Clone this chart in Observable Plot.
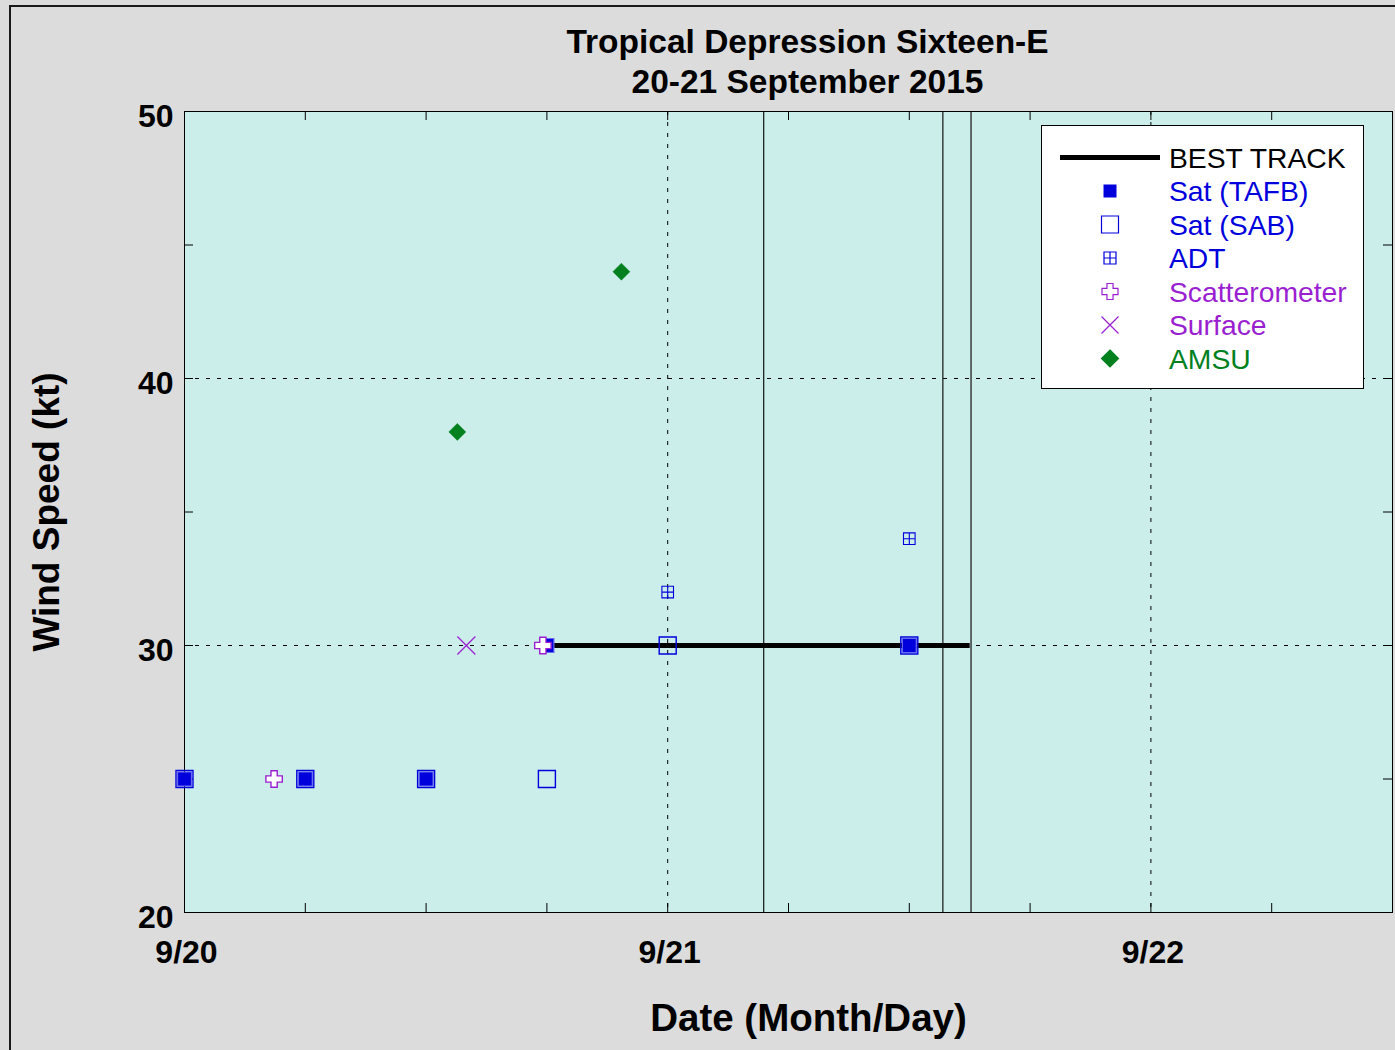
<!DOCTYPE html>
<html><head><meta charset="utf-8">
<script src="https://cdn.jsdelivr.net/npm/d3@7"></script>
<script src="https://cdn.jsdelivr.net/npm/@observablehq/plot@0.6"></script>
<style>
html,body{margin:0;padding:0;overflow:hidden;background:#dcdcdc;}
#wrap{position:relative;width:1395px;height:1050px;overflow:hidden;}
#border{position:absolute;left:9px;top:5px;width:1500px;height:1200px;border:2px solid #1a1a1a;pointer-events:none;}
#legend{position:absolute;left:1041px;top:125px;}
</style></head><body><div id="wrap"><div id="border"></div></div>
<script>
const FONT = "'Liberation Sans', Arial, Helvetica, sans-serif";
const BLUE = "#0000dd", PURPLE = "#9a1fd0", GREEN = "#00801f";

const titleLines = ["Tropical Depression Sixteen-E", "20-21 September 2015"];
const xLabel = "Date (Month/Day)";
const yLabel = "Wind Speed (kt)";

// Data
const bestTimes = ["2015-09-20T18:00Z","2015-09-21T00:00Z","2015-09-21T06:00Z","2015-09-21T12:00Z","2015-09-21T15:00Z"];
const bestWinds = [30, 30, 30, 30, 30];
const tafbTimes = ["2015-09-20T00:00Z","2015-09-20T06:00Z","2015-09-20T12:00Z","2015-09-20T18:00Z","2015-09-21T12:00Z"];
const tafbWinds = [25, 25, 25, 30, 30];
const sabTimes = ["2015-09-20T00:00Z","2015-09-20T06:00Z","2015-09-20T12:00Z","2015-09-20T18:00Z","2015-09-21T00:00Z","2015-09-21T12:00Z"];
const sabWinds = [25, 25, 25, 25, 30, 30];
const adtTimes = ["2015-09-21T00:00Z","2015-09-21T12:00Z"];
const adtWinds = [32, 34];
const scatTimes = ["2015-09-20T04:27Z","2015-09-20T17:48Z"];
const scatWinds = [25, 30];
const sfcTimes = ["2015-09-20T14:00Z"];
const sfcWinds = [30];
const amsuTimes = ["2015-09-20T13:33Z","2015-09-20T21:42Z"];
const amsuWinds = [38, 44];
const eventTimes = ["2015-09-21T04:46Z","2015-09-21T13:40Z","2015-09-21T15:04Z"];

// Axes
const xDomain = ["2015-09-20T00:00Z","2015-09-22T12:00Z"];
const dayTicks = ["2015-09-20T00:00Z","2015-09-21T00:00Z","2015-09-22T00:00Z"];
const dayLabels = ["9/20","9/21","9/22"];
const sixHourTicks = ["2015-09-20T00:00Z","2015-09-20T06:00Z","2015-09-20T12:00Z","2015-09-20T18:00Z",
  "2015-09-21T00:00Z","2015-09-21T06:00Z","2015-09-21T12:00Z","2015-09-21T18:00Z",
  "2015-09-22T00:00Z","2015-09-22T06:00Z","2015-09-22T12:00Z"];
const yDomain = [20, 50];
const yMajorTicks = [20, 30, 40, 50];
const yMajorLabels = ["20","30","40","50"];
const yMinorTicks = [20, 25, 30, 35, 40, 45, 50];

const pts = (t, v) => t.map((d, i) => ({t: new Date(d), v: v[i]}));
const best = pts(bestTimes, bestWinds);
const tafb = pts(tafbTimes, tafbWinds);
const sab = pts(sabTimes, sabWinds);
const adt = pts(adtTimes, adtWinds);
const scat = pts(scatTimes, scatWinds);
const sfc = pts(sfcTimes, sfcWinds);
const amsu = pts(amsuTimes, amsuWinds);
const events = eventTimes.map(d => new Date(d));
const days = dayTicks.map((d, i) => ({t: new Date(d), label: dayLabels[i]}));
const sixH = sixHourTicks.map(d => new Date(d));
const yMaj = yMajorTicks.map((v, i) => ({v, label: yMajorLabels[i]}));

// Symbols
const sym = f => ({draw(c, size) { f(c, Math.sqrt(size / Math.PI)); }});
const sq = (c, r) => { c.moveTo(-r, -r); c.lineTo(r, -r); c.lineTo(r, r); c.lineTo(-r, r); c.closePath(); };
const SQUARE = sym(sq);
const ADTSYM = sym((c, r) => { sq(c, r); c.moveTo(0, -r); c.lineTo(0, r); c.moveTo(-r, 0); c.lineTo(r, 0); });
const PLUS = sym((c, r) => {
  const a = r * 0.38;
  c.moveTo(-a, -r); c.lineTo(a, -r); c.lineTo(a, -a); c.lineTo(r, -a); c.lineTo(r, a); c.lineTo(a, a);
  c.lineTo(a, r); c.lineTo(-a, r); c.lineTo(-a, a); c.lineTo(-r, a); c.lineTo(-r, -a); c.lineTo(-a, -a); c.closePath();
});
const TIMES = sym((c, r) => { c.moveTo(-r, -r); c.lineTo(r, r); c.moveTo(-r, r); c.lineTo(r, -r); });
const DIAMOND = sym((c, r) => { c.moveTo(0, -r); c.lineTo(r, 0); c.lineTo(0, r); c.lineTo(-r, 0); c.closePath(); });

const W = 1395, H = 1050, mT = 111, mB = 138, mL = 184, mR = 3;
const pw = W - mL - mR, ph = H - mT - mB, tk = 9;
const dash = "4,7";

const chart = Plot.plot({
  width: W, height: H,
  marginTop: mT, marginBottom: mB, marginLeft: mL, marginRight: mR,
  style: {background: "#dcdcdc", fontFamily: FONT, overflow: "visible"},
  x: {type: "utc", domain: xDomain.map(d => new Date(d)), axis: null},
  y: {domain: yDomain, axis: null},
  marks: [
    Plot.frame({fill: "#cbeeea", stroke: null}),
    // grid
    Plot.ruleX(days, {x: "t", stroke: "black", strokeWidth: 1, strokeDasharray: dash}),
    Plot.ruleY(yMaj, {y: "v", stroke: "black", strokeWidth: 1, strokeDasharray: dash}),
    // inward ticks
    Plot.ruleX(sixH, {x: d => d, insetTop: ph - tk, stroke: "black"}),
    Plot.ruleX(sixH, {x: d => d, insetBottom: ph - tk, stroke: "black"}),
    Plot.ruleY(yMinorTicks, {y: d => d, insetRight: pw - tk, stroke: "black"}),
    Plot.ruleY(yMinorTicks, {y: d => d, insetLeft: pw - tk, stroke: "black"}),
    // event lines
    Plot.ruleX(events, {x: d => d, stroke: "#222", strokeWidth: 1.3}),
    Plot.frame({stroke: "black", strokeWidth: 1}),
    // data
    Plot.line(best, {x: "t", y: "v", stroke: "black", strokeWidth: 5, strokeLinecap: "butt"}),
    Plot.dot(tafb, {x: "t", y: "v", symbol: SQUARE, r: 7, fill: BLUE, stroke: "#6a6af0", strokeWidth: 1.2}),
    Plot.dot(sab, {x: "t", y: "v", symbol: SQUARE, r: 8.5, fill: "none", stroke: BLUE, strokeWidth: 1.4}),
    Plot.dot(adt, {x: "t", y: "v", symbol: ADTSYM, r: 5.8, fill: "none", stroke: BLUE, strokeWidth: 1.1}),
    Plot.dot(scat, {x: "t", y: "v", symbol: PLUS, r: 8.2, fill: "white", stroke: PURPLE, strokeWidth: 1.4}),
    Plot.dot(sfc, {x: "t", y: "v", symbol: TIMES, r: 9, fill: "none", stroke: PURPLE, strokeWidth: 1.2}),
    Plot.dot(amsu, {x: "t", y: "v", symbol: DIAMOND, r: 8.5, fill: GREEN, stroke: GREEN, strokeWidth: 0.5}),
    // tick labels
    Plot.text(days, {x: "t", text: "label", frameAnchor: "bottom", lineAnchor: "middle", dy: 40, dx: 2, fontSize: 32, fontWeight: "bold", fill: "black"}),
    Plot.text(yMaj, {y: "v", text: "label", frameAnchor: "left", textAnchor: "end", lineAnchor: "middle", dx: -11, dy: 5, fontSize: 32, fontWeight: "bold", fill: "black"}),
    // titles
    Plot.text([titleLines[0]], {text: d => d, frameAnchor: "top", lineAnchor: "bottom", dy: 52 - mT, dx: 19, fontSize: 33.5, fontWeight: "bold", fill: "black"}),
    Plot.text([titleLines[1]], {text: d => d, frameAnchor: "top", lineAnchor: "bottom", dy: 92 - mT, dx: 19, fontSize: 33.5, fontWeight: "bold", fill: "black"}),
    Plot.text([xLabel], {text: d => d, frameAnchor: "bottom", lineAnchor: "bottom", dy: 1030 - (H - mB), dx: 20, fontSize: 38.5, fontWeight: "bold", fill: "black"}),
    Plot.text([yLabel], {text: d => d, frameAnchor: "left", textAnchor: "middle", lineAnchor: "middle", rotate: -90, dx: 47 - mL, fontSize: 37, fontWeight: "bold", fill: "black"})
  ]
});
const wrap = document.getElementById("wrap");
wrap.insertBefore(chart, wrap.firstChild);

// Legend
const legendItems = [
  {label: "BEST TRACK", color: "black", kind: "line"},
  {label: "Sat (TAFB)", color: BLUE, kind: "dot", symbol: SQUARE, r: 6.5, fill: BLUE, stroke: "none"},
  {label: "Sat (SAB)", color: BLUE, kind: "dot", symbol: SQUARE, r: 8.5, fill: "none", stroke: BLUE},
  {label: "ADT", color: BLUE, kind: "dot", symbol: ADTSYM, r: 6, fill: "none", stroke: BLUE},
  {label: "Scatterometer", color: PURPLE, kind: "dot", symbol: PLUS, r: 8, fill: "white", stroke: PURPLE},
  {label: "Surface", color: PURPLE, kind: "dot", symbol: TIMES, r: 8.5, fill: "none", stroke: PURPLE},
  {label: "AMSU", color: GREEN, kind: "dot", symbol: DIAMOND, r: 8.5, fill: GREEN, stroke: GREEN}
];
const LW = 322, LH = 263;
const lsvg = d3.create("svg").attr("width", LW + 1).attr("height", LH + 1).style("font-family", FONT);
lsvg.append("rect").attr("x", 0.5).attr("y", 0.5).attr("width", LW).attr("height", LH).attr("fill", "white").attr("stroke", "black");
legendItems.forEach((it, i) => {
  const cy = 32.5 + i * 33.5;
  if (it.kind === "line") {
    lsvg.append("line").attr("x1", 19).attr("x2", 119).attr("y1", cy).attr("y2", cy).attr("stroke", "black").attr("stroke-width", 5);
  } else {
    lsvg.append("path").attr("transform", `translate(69,${cy})`)
      .attr("d", d3.symbol(it.symbol, Math.PI * it.r * it.r)())
      .attr("fill", it.fill).attr("stroke", it.stroke).attr("stroke-width", 1.2);
  }
  lsvg.append("text").attr("x", 128).attr("y", cy + 10).attr("font-size", 28.3).attr("fill", it.color).text(it.label);
});
const ldiv = document.createElement("div");
ldiv.id = "legend";
ldiv.appendChild(lsvg.node());
wrap.appendChild(ldiv);
</script></body></html>
